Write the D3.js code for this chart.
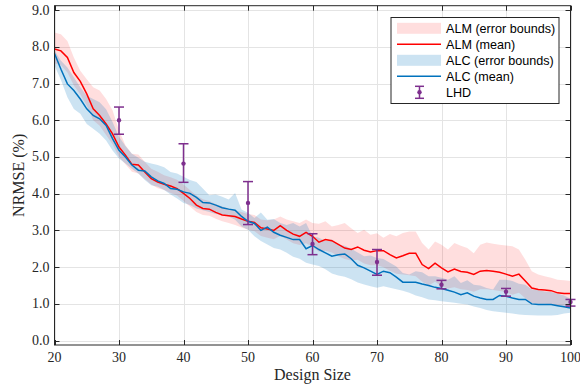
<!DOCTYPE html>
<html>
<head>
<meta charset="utf-8">
<script src="https://cdn.jsdelivr.net/npm/d3@7"></script>
<style>
  body { margin: 0; background: #fff; }
  svg { display: block; }
</style>
</head>
<body>
<div id="chart"></div>
<script>
// design sizes 20..100
var designSize = d3.range(20, 101);

var almMean = [7.94, 7.89, 7.71, 7.30, 7.06, 6.72, 6.31, 6.13, 5.90, 5.63,
  5.27, 5.05, 4.80, 4.78, 4.59, 4.41, 4.32, 4.26, 4.21, 4.14,
  4.01, 3.87, 3.69, 3.60, 3.58, 3.49, 3.42, 3.40, 3.38, 3.31,
  3.25, 3.22, 3.07, 3.04, 3.00, 3.13, 3.00, 2.90, 2.84, 2.95,
  2.84, 2.68, 2.75, 2.72, 2.62, 2.52, 2.48, 2.55, 2.46, 2.41,
  2.45, 2.45, 2.34, 2.25, 2.31, 2.38, 2.38, 2.07, 1.96, 2.11,
  1.98, 1.87, 1.95, 1.88, 1.86, 1.80, 1.89, 1.91, 1.89, 1.86,
  1.81, 1.75, 1.81, 1.62, 1.43, 1.39, 1.38, 1.36, 1.30, 1.28, 1.28];
var almHigh = [8.39, 8.34, 8.16, 7.71, 7.35, 7.12, 6.90, 6.81, 6.58, 6.27,
  5.72, 5.32, 5.09, 5.07, 4.87, 4.68, 4.60, 4.50, 4.45, 4.38,
  4.25, 4.10, 3.95, 3.85, 3.80, 3.72, 3.65, 3.60, 3.55, 3.50,
  3.45, 3.42, 3.30, 3.28, 3.30, 3.38, 3.30, 3.25, 3.20, 3.30,
  3.20, 3.18, 3.25, 3.11, 3.15, 3.20, 3.06, 2.93, 3.02, 2.88,
  2.92, 2.80, 2.90, 2.84, 2.93, 2.97, 2.97, 2.66, 2.48, 2.70,
  2.61, 2.48, 2.66, 2.58, 2.52, 2.38, 2.61, 2.67, 2.64, 2.61,
  2.59, 2.57, 2.48, 2.20, 1.89, 1.80, 1.75, 1.71, 1.66, 1.64, 1.62];
var almLow = [7.55, 7.50, 7.30, 6.95, 6.70, 6.40, 6.00, 5.85, 5.60, 5.35,
  5.00, 4.80, 4.60, 4.55, 4.40, 4.25, 4.15, 4.10, 4.02, 3.95,
  3.80, 3.65, 3.50, 3.42, 3.40, 3.32, 3.25, 3.20, 3.15, 3.08,
  3.02, 2.98, 2.85, 2.80, 2.76, 2.85, 2.75, 2.65, 2.60, 2.65,
  2.55, 2.42, 2.45, 2.40, 2.30, 2.22, 2.18, 2.20, 2.10, 2.05,
  2.05, 2.00, 1.90, 1.82, 1.80, 1.78, 1.75, 1.60, 1.50, 1.60,
  1.48, 1.42, 1.45, 1.40, 1.38, 1.33, 1.40, 1.40, 1.38, 1.35,
  1.32, 1.25, 1.30, 1.15, 1.02, 1.00, 1.00, 0.98, 0.95, 0.95, 0.95];

var alcMean = [7.82, 7.39, 6.99, 6.81, 6.58, 6.31, 6.13, 6.04, 5.86, 5.50,
  5.18, 5.00, 4.78, 4.64, 4.62, 4.46, 4.35, 4.28, 4.14, 4.12,
  4.05, 4.01, 3.90, 3.76, 3.75, 3.69, 3.62, 3.58, 3.55, 3.38,
  3.25, 3.19, 3.00, 3.09, 2.95, 2.87, 2.81, 2.75, 2.75, 2.50,
  2.59, 2.48, 2.39, 2.30, 2.34, 2.36, 2.23, 2.05, 1.98, 1.89,
  1.80, 1.89, 1.85, 1.73, 1.59, 1.59, 1.59, 1.54, 1.50, 1.45,
  1.42, 1.37, 1.32, 1.25, 1.30, 1.21, 1.16, 1.12, 1.12, 1.23,
  1.21, 1.16, 1.12, 1.12, 1.00, 0.98, 0.98, 0.98, 0.95, 0.92, 0.89];
var alcHigh = [7.90, 7.62, 7.44, 7.17, 6.90, 6.67, 6.58, 6.49, 6.30, 5.95,
  5.55, 5.30, 5.09, 4.98, 4.87, 4.82, 4.78, 4.72, 4.59, 4.55,
  4.46, 4.37, 4.32, 4.14, 3.96, 3.98, 3.92, 3.84, 4.02, 3.57,
  3.48, 3.34, 3.49, 3.29, 3.31, 3.20, 3.15, 3.20, 3.11, 3.20,
  2.84, 2.80, 2.71, 2.75, 2.62, 2.58, 2.50, 2.40, 2.30, 2.32,
  2.25, 2.22, 2.12, 2.02, 1.84, 1.80, 1.89, 1.86, 1.75, 1.75,
  1.71, 1.66, 1.75, 1.57, 1.64, 1.52, 1.50, 1.43, 1.39, 1.66,
  1.66, 1.62, 1.55, 1.52, 1.40, 1.37, 1.34, 1.32, 1.28, 1.23, 1.14];
var alcLow = [7.49, 7.10, 6.63, 6.31, 6.18, 5.90, 5.77, 5.63, 5.45, 5.18,
  4.96, 4.82, 4.68, 4.55, 4.37, 4.23, 4.19, 4.10, 3.98, 3.87,
  3.75, 3.69, 3.60, 3.55, 3.50, 3.45, 3.42, 3.38, 3.29, 3.11,
  3.02, 2.84, 2.71, 2.62, 2.52, 2.48, 2.39, 2.28, 2.23, 2.12,
  2.07, 2.03, 1.94, 1.83, 1.77, 1.74, 1.67, 1.58, 1.53, 1.48,
  1.44, 1.48, 1.44, 1.40, 1.36, 1.30, 1.23, 1.18, 1.12, 1.10,
  1.07, 1.05, 1.03, 1.00, 0.98, 0.93, 0.89, 0.83, 0.80, 0.78,
  0.76, 0.74, 0.71, 0.70, 0.69, 0.68, 0.68, 0.68, 0.70, 0.74, 0.76];

var lhdSize = [30, 40, 50, 60, 70, 80, 90, 100];
var lhdMean = [6.00, 4.82, 3.75, 2.63, 2.14, 1.52, 1.33, 1.05];
var lhdLow = [5.62, 4.31, 3.16, 2.34, 1.78, 1.41, 1.21, 0.94];
var lhdHigh = [6.36, 5.36, 4.33, 2.91, 2.48, 1.64, 1.42, 1.12];

var xTicks = [20, 30, 40, 50, 60, 70, 80, 90, 100];
var yTicks = [0, 1, 2, 3, 4, 5, 6, 7, 8, 9];

var W = 580, H = 392;
var mLeft = 54.5, mRight = 570.5, mTop = 5.7, mBottom = 345;
var axisColor = "#262626";
var serif = "'Liberation Serif', 'DejaVu Serif', serif";
var sans = "'Liberation Sans', Arial, sans-serif";
var red = "#ff0000", blue = "#0072bd", purple = "#7e2f8e";

var svg = d3.select("#chart").append("svg")
    .attr("width", W)
    .attr("height", H);

var x = d3.scaleLinear().domain([20, 100]).range([mLeft, mRight]);
var y = d3.scaleLinear().domain([-0.12, 9.12]).range([mBottom, mTop]);

// grid
var grid = svg.append("g").attr("stroke", "#e4e4e4").attr("stroke-width", 1);
grid.selectAll("line.gx").data(xTicks).enter().append("line")
    .attr("x1", function(d) { return Math.round(x(d)) + 0.5; })
    .attr("x2", function(d) { return Math.round(x(d)) + 0.5; })
    .attr("y1", mTop).attr("y2", mBottom);
grid.selectAll("line.gy").data(yTicks).enter().append("line")
    .attr("y1", function(d) { return Math.round(y(d)) + 0.5; })
    .attr("y2", function(d) { return Math.round(y(d)) + 0.5; })
    .attr("x1", mLeft).attr("x2", mRight);

var idx = d3.range(designSize.length);

function band(lo, hi) {
    return d3.area()
        .x(function(i) { return x(designSize[i]); })
        .y0(function(i) { return y(lo[i]); })
        .y1(function(i) { return y(hi[i]); })(idx);
}
function meanLine(m) {
    return d3.line()
        .x(function(i) { return x(designSize[i]); })
        .y(function(i) { return y(m[i]); })(idx);
}

var plot = svg.append("g");
plot.append("path").attr("d", band(almLow, almHigh))
    .attr("fill", red).attr("fill-opacity", 0.13);
plot.append("path").attr("d", band(alcLow, alcHigh))
    .attr("fill", blue).attr("fill-opacity", 0.2);
plot.append("path").attr("d", meanLine(almMean))
    .attr("fill", "none").attr("stroke", red).attr("stroke-width", 1.5);
plot.append("path").attr("d", meanLine(alcMean))
    .attr("fill", "none").attr("stroke", blue).attr("stroke-width", 1.5);

// LHD error bars
var eb = plot.selectAll("g.lhd").data(d3.range(lhdSize.length)).enter()
    .append("g").attr("class", "lhd")
    .attr("stroke", purple).attr("stroke-width", 1.5).attr("fill", purple);
eb.append("line")
    .attr("x1", function(i) { return x(lhdSize[i]); })
    .attr("x2", function(i) { return x(lhdSize[i]); })
    .attr("y1", function(i) { return y(lhdLow[i]); })
    .attr("y2", function(i) { return y(lhdHigh[i]); });
eb.append("line")
    .attr("x1", function(i) { return x(lhdSize[i]) - 5; })
    .attr("x2", function(i) { return x(lhdSize[i]) + 5; })
    .attr("y1", function(i) { return y(lhdLow[i]); })
    .attr("y2", function(i) { return y(lhdLow[i]); });
eb.append("line")
    .attr("x1", function(i) { return x(lhdSize[i]) - 5; })
    .attr("x2", function(i) { return x(lhdSize[i]) + 5; })
    .attr("y1", function(i) { return y(lhdHigh[i]); })
    .attr("y2", function(i) { return y(lhdHigh[i]); });
eb.append("circle")
    .attr("cx", function(i) { return x(lhdSize[i]); })
    .attr("cy", function(i) { return y(lhdMean[i]); })
    .attr("r", 2.2).attr("stroke", "none");

// frame + ticks
var ax = svg.append("g").attr("stroke", axisColor).attr("stroke-width", 1).attr("fill", "none");
ax.append("rect").attr("x", mLeft).attr("y", mTop)
    .attr("width", mRight - mLeft).attr("height", mBottom - mTop);
xTicks.forEach(function(t) {
    var px = Math.round(x(t)) + 0.5;
    ax.append("line").attr("x1", px).attr("x2", px).attr("y1", mBottom).attr("y2", mBottom - 5);
    ax.append("line").attr("x1", px).attr("x2", px).attr("y1", mTop).attr("y2", mTop + 5);
});
yTicks.forEach(function(t) {
    var py = Math.round(y(t)) + 0.5;
    ax.append("line").attr("x1", mLeft).attr("x2", mLeft + 5).attr("y1", py).attr("y2", py);
    ax.append("line").attr("x1", mRight).attr("x2", mRight - 5).attr("y1", py).attr("y2", py);
});

// tick labels
var fmt = d3.format(".1f");
svg.append("g").selectAll("text").data(xTicks).enter().append("text")
    .attr("x", function(d) { return x(d); })
    .attr("y", 361.5)
    .attr("text-anchor", "middle")
    .attr("font-family", serif).attr("font-size", 14).attr("fill", axisColor)
    .text(function(d) { return d; });
svg.append("g").selectAll("text").data(yTicks).enter().append("text")
    .attr("x", 49.5)
    .attr("y", function(d) { return y(d) + 4.5; })
    .attr("text-anchor", "end")
    .attr("font-family", serif).attr("font-size", 14).attr("fill", axisColor)
    .text(function(d) { return fmt(d); });

// axis titles
svg.append("text")
    .attr("x", (mLeft + mRight) / 2).attr("y", 380)
    .attr("text-anchor", "middle")
    .attr("font-family", serif).attr("font-size", 16).attr("fill", axisColor)
    .text("Design Size");
svg.append("text")
    .attr("transform", "translate(24," + ((mTop + mBottom) / 2) + ") rotate(-90)")
    .attr("text-anchor", "middle")
    .attr("font-family", serif).attr("font-size", 16).attr("fill", axisColor)
    .text("NRMSE (%)");

// legend
var lg = svg.append("g").attr("transform", "translate(391,17.5)");
lg.append("rect").attr("width", 168).attr("height", 86)
    .attr("fill", "#fff").attr("stroke", axisColor).attr("stroke-width", 1);
var legendItems = [
    { label: "ALM (error bounds)", type: "band", color: red, op: 0.13 },
    { label: "ALM (mean)", type: "line", color: red },
    { label: "ALC (error bounds)", type: "band", color: blue, op: 0.2 },
    { label: "ALC (mean)", type: "line", color: blue },
    { label: "LHD", type: "bar", color: purple }
];
legendItems.forEach(function(item, i) {
    var cy = 10.8 + i * 16;
    if (item.type === "band") {
        lg.append("rect").attr("x", 6).attr("y", cy - 5.5).attr("width", 44).attr("height", 11)
            .attr("fill", item.color).attr("fill-opacity", item.op);
    } else if (item.type === "line") {
        lg.append("line").attr("x1", 6).attr("x2", 50).attr("y1", cy).attr("y2", cy)
            .attr("stroke", item.color).attr("stroke-width", 1.5);
    } else {
        var g = lg.append("g").attr("stroke", item.color).attr("stroke-width", 1.5);
        g.append("line").attr("x1", 28.5).attr("x2", 28.5).attr("y1", cy - 6).attr("y2", cy + 6);
        g.append("line").attr("x1", 24).attr("x2", 33).attr("y1", cy - 6).attr("y2", cy - 6);
        g.append("line").attr("x1", 24).attr("x2", 33).attr("y1", cy + 6).attr("y2", cy + 6);
        lg.append("circle").attr("cx", 28.5).attr("cy", cy).attr("r", 2.2).attr("fill", item.color);
    }
    lg.append("text").attr("x", 55).attr("y", cy + 4.5)
        .attr("font-family", sans).attr("font-size", 12.6).attr("fill", "#000")
        .text(item.label);
});
</script>
</body>
</html>
